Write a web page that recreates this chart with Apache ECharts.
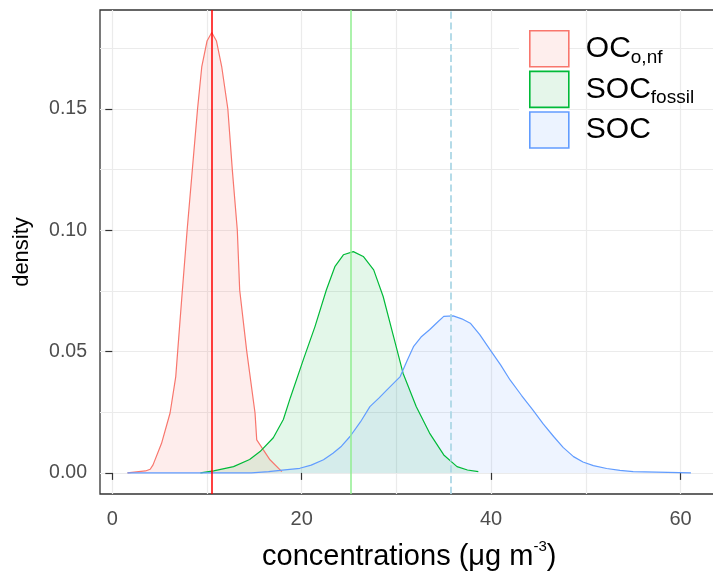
<!DOCTYPE html>
<html>
<head>
<meta charset="utf-8">
<script src="https://cdn.jsdelivr.net/npm/echarts@6/dist/echarts.min.js"></script>
<style>html,body{margin:0;padding:0;background:#fff;}#c{width:713px;height:577px;}</style>
</head>
<body>
<div id="c"></div>
<script>
// ---- data ----
const ocnfX = [1.6, 3.5, 4.0, 4.3, 5.2, 6.1, 6.7, 6.9, 7.4, 7.9, 8.45, 9.0, 9.45, 10.0, 10.5, 11.0, 11.55, 12.2, 12.67, 13.2, 13.45, 14.2, 15.07, 15.25, 15.95, 16.65, 17.9];
const ocnfY = [0, 0.0008, 0.0015, 0.0033, 0.0122, 0.0247, 0.0397, 0.05, 0.0754, 0.10, 0.125, 0.15, 0.1675, 0.178, 0.1815, 0.178, 0.1675, 0.15, 0.125, 0.10, 0.0754, 0.05, 0.0247, 0.0136, 0.0095, 0.0054, 0.0005];

const socFossilX = [9.3, 10.7, 12.8, 14.5, 15.6, 17.0, 18.06, 18.8, 20.2, 21.4, 22.6, 23.5, 24.4, 25.45, 26.5, 27.6, 28.6, 29.7, 30.7, 32.1, 33.5, 35.0, 36.4, 37.5, 38.65];
const socFossilY = [0, 0.0008, 0.0026, 0.0055, 0.0088, 0.0145, 0.022, 0.031, 0.047, 0.0603, 0.0754, 0.085, 0.0899, 0.0912, 0.0892, 0.0837, 0.0727, 0.0562, 0.0411, 0.0273, 0.0164, 0.0074, 0.0026, 0.0012, 0.0005];

const socX = [1.6, 14.7, 16.5, 17.7, 19.8, 21.0, 22.3, 23.3, 24.2, 25.1, 26.2, 27.2, 28.2, 29.0, 30.4, 31.1, 31.8, 32.6, 33.5, 34.3, 35.0, 36.0, 36.9, 37.8, 38.8, 39.9, 41.0, 42.0, 43.2, 44.4, 45.5, 46.6, 47.6, 48.7, 49.7, 50.8, 52.2, 53.6, 55.0, 61.1];
const socY = [0, 0, 0.0005, 0.001, 0.0019, 0.0032, 0.0054, 0.0081, 0.011, 0.015, 0.021, 0.0273, 0.031, 0.0342, 0.0397, 0.046, 0.052, 0.056, 0.059, 0.062, 0.0645, 0.0647, 0.0635, 0.0617, 0.057, 0.0507, 0.0445, 0.0383, 0.032, 0.026, 0.0202, 0.015, 0.0105, 0.0067, 0.0045, 0.003, 0.0018, 0.001, 0.0005, 0];

const vlineX = [10.45, 25.2, 35.77];   // OCo,nf, SOCfossil, SOC
const seriesNames = ['OCo,nf', 'SOCfossil', 'SOC'];
const legendMain = ['OC', 'SOC', 'SOC'];
const legendSub = ['o,nf', 'fossil', ''];

const xTicks = [0, 20, 40, 60];
const yTicks = [0, 0.05, 0.10, 0.15];
const xMin = -1.3, xMax = 64.0;
const yMin = -0.0087, yMax = 0.1908;

// ---- styling ----
const lineCols = ['#f8766d', '#00ba38', '#619cff'];
const fillCols = ['rgba(248,118,109,0.13)', 'rgba(0,186,56,0.11)', 'rgba(97,156,255,0.11)'];
const keyFill = ['#feeeed', '#e5f6ea', '#ecf3ff'];
const vlineStyles = [
  {color: '#ff0000', width: 1.5, type: 'solid'},
  {color: '#90ee90', width: 1.5, type: 'solid'},
  {color: '#add8e6', width: 1.8, type: 'dashed'}
];
const FONT = '"Liberation Sans", Arial, sans-serif';
const GRIDC = '#ebebeb';

function pairs(xs, ys) { return xs.map((x, i) => [x, ys[i]]); }
const datasets = [pairs(ocnfX, ocnfY), pairs(socFossilX, socFossilY), pairs(socX, socY)];

const chart = echarts.init(document.getElementById('c'), null, {renderer: 'canvas'});
const option = {
  animation: false,
  backgroundColor: '#fff',
  grid: {left: 100, top: 10, width: 618.4, height: 484, containLabel: false, outerBoundsMode: 'none',
         show: true, borderColor: '#333', borderWidth: 1.3, backgroundColor: 'transparent'},
  xAxis: {
    type: 'value', min: xMin, max: xMax, splitNumber: 3,
    axisLine: {show: false},
    axisTick: {show: true, length: 7, customValues: xTicks, lineStyle: {color: '#333', width: 1.2}},
    minorTick: {show: false, splitNumber: 2, length: 0, lineStyle: {color: 'rgba(0,0,0,0)'}},
    splitLine: {show: true, lineStyle: {color: GRIDC, width: 1.2}},
    minorSplitLine: {show: true, lineStyle: {color: GRIDC, width: 1.2}},
    axisLabel: {color: '#4d4d4d', fontSize: 20, fontFamily: FONT, margin: 15, customValues: xTicks},
    name: '{t|concentrations (μg m}{s|-3}{t|)}',
    nameLocation: 'middle', nameGap: 45,
    nameTextStyle: {rich: {
      t: {fontSize: 29, fontFamily: FONT, color: '#000', lineHeight: 36},
      s: {fontSize: 15, fontFamily: FONT, color: '#000', lineHeight: 18, verticalAlign: 'top'}
    }}
  },
  yAxis: {
    type: 'value', min: yMin, max: yMax, splitNumber: 4,
    axisLine: {show: false},
    axisTick: {show: true, length: 7, customValues: yTicks, lineStyle: {color: '#333', width: 1.2}},
    minorTick: {show: false, splitNumber: 2, length: 0, lineStyle: {color: 'rgba(0,0,0,0)'}},
    splitLine: {show: true, lineStyle: {color: GRIDC, width: 1.2}},
    minorSplitLine: {show: true, lineStyle: {color: GRIDC, width: 1.2}},
    axisLabel: {color: '#4d4d4d', fontSize: 19.5, fontFamily: FONT, margin: 13, customValues: yTicks, formatter: v => v.toFixed(2)},
    name: 'density', nameLocation: 'middle', nameGap: 67,
    nameTextStyle: {fontSize: 22, fontFamily: FONT, color: '#000'}
  },
  legend: {
    orient: 'vertical', left: 524, top: 25,
    itemWidth: 39, itemHeight: 36, itemGap: 3, icon: 'rect',
    selectedMode: false,
    data: seriesNames.map((n, i) => ({name: n, itemStyle: {color: keyFill[i], borderColor: lineCols[i], borderWidth: 1.6}})),
    formatter: function (name) {
      const i = seriesNames.indexOf(name);
      return '{m|' + legendMain[i] + '}' + (legendSub[i] ? '{s|' + legendSub[i] + '}' : '');
    },
    textStyle: {
      padding: [0, 0, 0, 12],
      rich: {
        m: {fontSize: 30, fontFamily: FONT, color: '#000', lineHeight: 36},
        s: {fontSize: 19, fontFamily: FONT, color: '#000', lineHeight: 18, verticalAlign: 'bottom'}
      }
    }
  },
  graphic: [{type: 'rect', shape: {x: 519, y: 20, width: 49, height: 123}, style: {fill: '#fff'}, z: 1, silent: true}],
  series: seriesNames.map((n, i) => ({
    name: n, type: 'line', data: datasets[i],
    showSymbol: false, symbol: 'none', smooth: false,
    lineStyle: {color: lineCols[i], width: 1.2},
    itemStyle: {color: lineCols[i]},
    areaStyle: {color: fillCols[i], opacity: 1},
    markLine: {
      symbol: 'none', silent: true, label: {show: false},
      lineStyle: vlineStyles[i],
      data: [{xAxis: vlineX[i]}]
    }
  }))
};
chart.setOption(option);
</script>
</body>
</html>
